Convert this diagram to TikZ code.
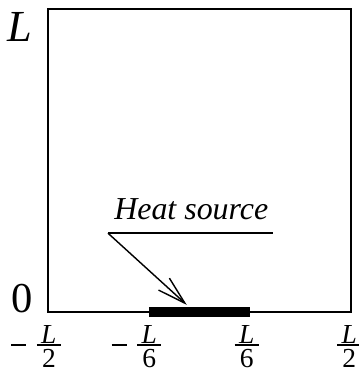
\documentclass[tikz,border=0pt]{standalone}
\usepackage{fontspec}
\setmainfont{Liberation Serif}
\usetikzlibrary{arrows.meta, positioning}

% L over a digit, set tight like the tick labels of the figure
\newcommand{\Lover}[1]{{\setlength{\arrayrulewidth}{0.9pt}\renewcommand{\arraystretch}{0.1}%
    \begin{tabular}{@{\hspace{2.5pt}}c@{\hspace{2.5pt}}}\textit{L}\\\hline\rule{0pt}{12.2pt}#1\end{tabular}}}
\newcommand{\minusbar}{\rule[4.2pt]{8.5pt}{0.9pt}\hspace{6pt}}

\tikzset{ticklbl/.style={inner sep=0pt, anchor=east, font=\fontsize{15.5}{15.5}\selectfont}}

\begin{document}
\begin{tikzpicture}[>={Straight Barb[length=5.6mm, width=3.2mm]}]

    \useasboundingbox (-3.95,-1.19) rectangle (3.16,6.18);

    % Domain and heat source
    \draw[line width=1.1pt] (-3,0) rectangle (3,6);
    \draw[line width=5.4pt] (-1,0) -- (1,0);

    % Axis labels
    \node (Ltop) at (-3.55,5.64) {\fontsize{25}{25}\selectfont\textit{L}};
    \node (zero) at (-3.51,0.26) {\fontsize{24}{24}\selectfont 0};
    \node[ticklbl] (xa) at (-2.735,-0.69) {\minusbar\Lover{2}};
    \node[ticklbl] (xb) at (-0.745,-0.69) {\minusbar\Lover{6}};
    \node[ticklbl] (xc) at (1.185,-0.69) {\Lover{6}};
    \node[ticklbl] (xd) at (3.215,-0.69) {\Lover{2}};

    % Heat source label with pointer
    \node (hs) at (-0.16,2.04) {\fontsize{18}{18}\selectfont\textit{Heat source}};
    \coordinate (ul) at (-1.81,1.56);
    \coordinate (ur) at (1.46,1.56);
    \coordinate (tip) at (-0.25,0.14);
    \draw[line width=0.8pt] (ul) -- (ur);
    \draw[->, line width=0.8pt] (ul) -- (tip);

\end{tikzpicture}
\end{document}
